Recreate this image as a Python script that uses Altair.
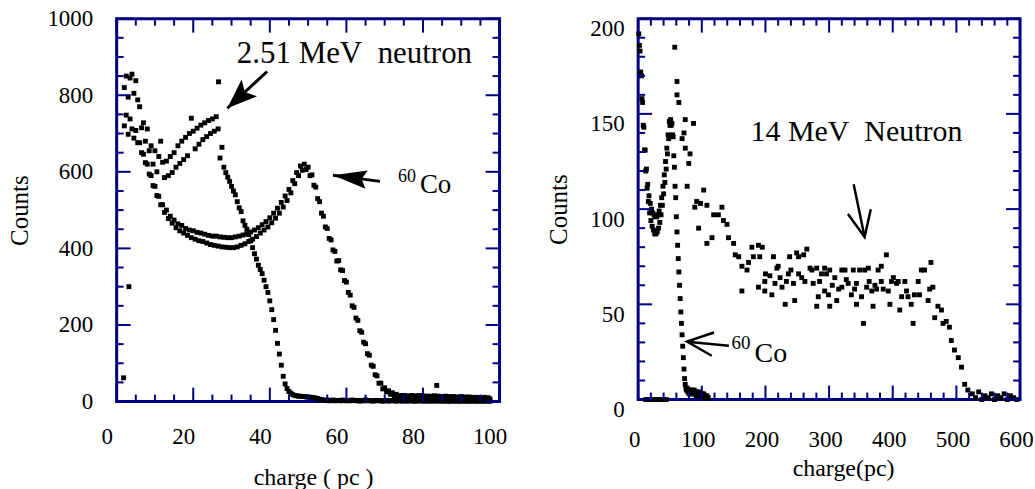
import math

import altair as alt
import pandas as pd

SERIF = "Liberation Serif"
INK = "#000080"  # frame and tick colour

# ---------------- left panel: 2.51 MeV neutrons and 60Co ----------------
# counts per channel, channels start at 2.0 pC with 0.5 pC spacing
LEFT_Q0, LEFT_DQ = 2.0, 0.5
co60_left = [
    720, 748, 698, 738, 712, 688, 708, 676,
    676, 650, 646, 624, 620, 594, 590, 564,
    562, 538, 536, 514, 514, 494, 500, 478,
    484, 466, 474, 454, 464, 446, 460, 440,
    452, 434, 448, 428, 446, 424, 442, 420,
    440, 418, 437, 414, 434, 410, 432, 408,
    432, 406, 430, 404, 429, 403, 428, 402,
    428, 402, 430, 404, 432, 408, 435, 412,
    438, 418, 443, 424, 448, 431, 454, 440,
    462, 448, 470, 456, 480, 467, 492, 479,
    505, 492, 520, 508, 537, 525, 554, 545,
    577, 569, 598, 590, 615, 604, 620, 606,
    612, 590, 592, 565, 560, 530, 522, 492,
    484, 456, 452, 426, 422, 396, 392, 367,
    368, 344, 342, 316, 312, 285, 278, 250,
    246, 218, 212, 185, 181, 155, 151, 125,
    121, 95, 92, 70, 67, 48, 48, 33,
    36, 25, 28, 19, 23, 15, 19, 13,
    16, 12, 16, 11, 15, 12, 16, 11,
    15, 11, 16, 12, 15, 11, 14, 12,
    14, 10, 15, 11, 14, 10, 13, 11,
    14, 10, 13, 11, 13, 9, 12, 10,
    13, 9, 12, 10, 12, 9, 11, 8,
    11, 9, 10, 8, 11, 8, 10, 7,
]
n251_left = [
    820, 850, 795, 845, 855, 805, 838, 788,
    770, 715, 728, 680, 712, 655, 668, 620,
    655, 600, 640, 680, 625, 585, 628, 590,
    640, 598, 650, 612, 668, 622, 680, 632,
    690, 642, 700, 740, 706, 660, 714, 672,
    722, 684, 728, 692, 734, 700, 738, 706,
    744, 712, 636, 664, 612, 598, 586, 575,
    562, 550, 540, 522, 506, 496, 472, 460,
    450, 436, 420, 402, 386, 372, 356, 345,
    334, 317, 300, 285, 263, 240, 214, 186,
    152, 124, 95, 66, 46, 34, 26, 22,
    18, 16, 15, 14, 14, 13, 13, 12,
    12, 11, 11, 10, 9, 8, 6, 5,
    4, 3, 4, 2, 3, 4, 2, 3,
    3, 2, 4, 3, 2, 3, 2, 4,
    3, 2, 3, 1, 3, 2, 4, 2,
    3, 2, 1, 3, 2, 3, 2, 1,
    2, 3, 1, 2, 3, 2, 1, 2,
    3, 1, 2, 2, 1, 3, 2, 1,
    2, 1, 3, 2, 1, 2, 1, 2,
    1, 2, 2, 1, 3, 1, 2, 1,
    2, 1, 1, 2, 1, 2, 1, 1,
    2, 1, 2, 1, 1, 2, 1, 2,
    1, 1, 2, 1, 1, 2, 1, 1,
]
# isolated readings
left_extra_q = [1.8, 3.2, 26.6, 83.6]
left_extra_counts = [62, 300, 835, 42]

# ---------------- right panel: 14 MeV neutrons and 60Co ----------------
RIGHT_Q0, RIGHT_DQ = 1.0, 1.0
co60_right = [
    192, 186, 183, 172, 170, 158, 156, 144, 143, 131,
    131, 120, 121, 111, 113, 104, 107, 98, 103, 94,
    100, 91, 98, 89, 97, 87, 96, 87, 96, 88,
    97, 90, 99, 93, 102, 97, 106, 102, 112, 108,
    118, 114, 125, 121, 132, 129, 139, 137, 146, 144,
    147, 144, 145, 139, 138, 128, 122, 112, 106, 96,
    88, 81, 74, 67, 60, 53, 46, 40, 34, 28,
    22, 16, 11, 8, 6, 5, 6, 4, 5, 3,
    5, 4, 3, 5, 4, 3, 4, 5, 3, 4,
    2, 4, 3, 2, 4, 3, 2, 3, 2, 3,
    2, 1, 3, 2, 1, 2, 1, 2, 1, 1,
]
n14_q = [
    12, 16, 20, 24, 28, 32, 36, 40, 44,
    57.5, 61, 61, 64, 69, 72, 74, 74, 77, 79.5, 81.5,
    87, 89, 92, 95, 98, 103, 108, 108, 116, 118.6,
    126, 131.6, 134, 139.5, 142, 150, 152.5, 158, 163, 163,
    171, 173.5, 178.7, 181, 189, 189, 191, 195, 199, 199,
    200, 207, 210, 212.6, 215, 218, 220, 223, 226, 231,
    233, 236, 238, 240, 244, 246, 249, 252, 252, 257,
    260, 262, 265, 270, 273, 275, 280.5, 280.6, 283, 285,
    288, 293, 293, 296, 299, 301, 301, 305, 309, 312,
    315, 320, 320, 325, 327, 330, 335, 338, 340, 343,
    343, 348, 351, 354, 356, 359, 361.6, 363, 367, 369,
    372, 374.6, 377, 382, 382, 385, 390, 393, 395.6, 398,
    401, 406, 408.6, 411, 414, 419, 421.6, 424, 429, 432,
    434, 440, 442, 445, 450, 455.6, 458, 460, 463, 466,
    471, 476.5, 479, 484, 489, 492, 497, 503, 508, 513,
    518, 525, 530, 535, 540, 545, 550, 555, 560, 565,
    570, 575, 580, 585, 590, 595,
]
n14_counts = [
    0, 0, 0, 0, 0, 0, 0, 0, 0,
    185, 167, 160, 156, 137, 140, 147, 132, 112, 124, 129,
    145, 101, 104, 90, 103, 110, 102, 82, 85, 97,
    97, 101, 94, 92, 85, 82, 76, 75, 70, 57,
    68, 72, 80, 75, 81, 59, 75, 80, 57, 62,
    66, 65, 55, 75, 61, 69, 70, 64, 59, 50,
    62, 66, 75, 68, 61, 52, 77, 66, 75, 64,
    76, 62, 79, 69, 68, 61, 69, 49, 54, 62,
    66, 57, 69, 66, 55, 68, 49, 60, 64, 52,
    58, 59, 68, 68, 63, 61, 55, 68, 58, 61,
    50, 68, 54, 40, 68, 59, 69, 62, 57, 49,
    60, 58, 68, 70, 62, 58, 76, 57, 50, 62,
    64, 61, 62, 47, 54, 62, 57, 54, 50, 40,
    55, 62, 55, 68, 68, 52, 58, 72, 59, 43,
    49, 47, 40, 41, 38, 31, 26, 22, 17, 8,
    5, 3, 1, 4, 0, 2, 1, 3, 0, 2,
    1, 3, 0, 2, 1, 0,
]

# axis tick values
left_q_major = [0, 20, 40, 60, 80, 100]
left_q_minor = [v for v in range(0, 101, 5) if v % 20]
left_c_major = [0, 200, 400, 600, 800, 1000]
left_c_minor = [v for v in range(0, 1001, 50) if v % 200]
right_q_major = [0, 100, 200, 300, 400, 500, 600]
right_q_minor = [v for v in range(0, 601, 20) if v % 100]
right_c_major = [0, 50, 100, 150, 200]
right_c_minor = [v for v in range(0, 201, 10) if v % 50]

LW, LH = 384, 384
RW, RH = 383, 382
MAJOR_LEN, MINOR_LEN = 14, 7
TICK_W = 2
POINT_SIZE = 24


def channel_frame(counts, q0, dq):
    return pd.DataFrame({"q": [q0 + dq * i for i in range(len(counts))], "counts": counts})


left_df = pd.concat(
    [
        channel_frame(co60_left, LEFT_Q0, LEFT_DQ),
        channel_frame(n251_left, LEFT_Q0, LEFT_DQ),
        pd.DataFrame({"q": left_extra_q, "counts": left_extra_counts}),
    ],
    ignore_index=True,
)
right_df = pd.concat(
    [
        channel_frame(co60_right, RIGHT_Q0, RIGHT_DQ),
        pd.DataFrame({"q": n14_q, "counts": n14_counts}),
    ],
    ignore_index=True,
)


class Panel:
    """Shared scales and axes for every layer of one panel."""

    def __init__(self, w, h, xs, ys, xaxis, yaxis):
        self.w, self.h = w, h
        self.xs, self.ys = xs, ys
        self.xaxis, self.yaxis = xaxis, yaxis
        (self.x0, self.x1), (self.y0, self.y1) = xs.domain, ys.domain
        self.sx = w / (self.x1 - self.x0)
        self.sy = h / (self.y1 - self.y0)

    def X(self):
        return alt.X("q:Q", scale=self.xs, axis=self.xaxis)

    def Y(self):
        return alt.Y("counts:Q", scale=self.ys, axis=self.yaxis)

    def points(self, df):
        return alt.Chart(df).mark_square(size=POINT_SIZE, color="black", opacity=1).encode(
            x=self.X(), y=self.Y()
        )

    def ticks(self, qmaj, qmin, cmaj, cmin):
        """Inward tick marks on all four sides, drawn as thin strips in data units."""
        rows = []
        hx = TICK_W / 2 / self.sx
        hy = TICK_W / 2 / self.sy
        for vals, length in ((qmaj, MAJOR_LEN), (qmin, MINOR_LEN)):
            d = length / self.sy
            for v in vals:
                rows.append((v - hx, self.y0, v + hx, self.y0 + d))
                rows.append((v - hx, self.y1 - d, v + hx, self.y1))
        for vals, length in ((cmaj, MAJOR_LEN), (cmin, MINOR_LEN)):
            d = length / self.sx
            for v in vals:
                rows.append((self.x0, v - hy, self.x0 + d, v + hy))
                rows.append((self.x1 - d, v - hy, self.x1, v + hy))
        df = pd.DataFrame(rows, columns=["q", "counts", "q2", "counts2"])
        return alt.Chart(df).mark_rect(color=INK, opacity=1, strokeWidth=0).encode(
            x=self.X(), y=self.Y(), x2="q2:Q", y2="counts2:Q"
        )

    def arrow(self, tail, tip, shape, size, filled, width):
        seg = pd.DataFrame(
            {"q": [tail[0]], "counts": [tail[1]], "q2": [tip[0]], "counts2": [tip[1]]}
        )
        shaft = alt.Chart(seg).mark_rule(color="black", strokeWidth=width).encode(
            x=self.X(), y=self.Y(), x2="q2:Q", y2="counts2:Q"
        )
        dx = (tip[0] - tail[0]) * self.sx
        dy = -(tip[1] - tail[1]) * self.sy
        ang = math.degrees(math.atan2(dx, -dy)) % 360
        head = alt.Chart(pd.DataFrame({"q": [tip[0]], "counts": [tip[1]]})).mark_point(
            shape=shape, size=size, angle=ang, filled=filled,
            color="black", opacity=1, strokeWidth=width,
        ).encode(x=self.X(), y=self.Y())
        return [shaft, head]

    def labels(self, rows):
        df = pd.DataFrame(rows, columns=["q", "counts", "label", "fs"])
        return alt.Chart(df).mark_text(
            font=SERIF, color="black", align="center", baseline="alphabetic"
        ).encode(
            x=self.X(), y=self.Y(), text="label:N",
            size=alt.Size("fs:Q", scale=None),
        )


BARBED = "M0,0L-0.38,1L0,0.8L0.38,1Z"
BARBED_NARROW = "M0,0L-0.27,1L0,0.85L0.27,1Z"
OPEN_V = "M-0.45,1L0,0L0.45,1"

# ---------------- left chart ----------------
left = Panel(
    LW, LH,
    alt.Scale(domain=[0, 100], nice=False, zero=False),
    alt.Scale(domain=[0, 1000], nice=False, zero=False),
    alt.Axis(
        values=left_q_major, title="charge ( pc )", format="d", ticks=False, tickSize=0,
        domain=False, grid=False, labelFontSize=23, titleFontSize=24,
        labelPadding=24, titlePadding=17, labelOffset=-10, labelFlush=False,
        labelOverlap=False, titleX=LW / 2 + 5,
    ),
    alt.Axis(
        values=left_c_major, title="Counts", format="d", ticks=False, tickSize=0,
        domain=False, grid=False, labelFontSize=23, titleFontSize=25,
        labelPadding=24, titlePadding=14, labelFlush=False, labelOverlap=False,
    ),
)
left_layers = [left.points(left_df)]
left_layers.append(left.ticks(left_q_major, left_q_minor, left_c_major, left_c_minor))
left_layers += left.arrow((39.3, 862), (28.9, 766), BARBED, 3600, True, 3)
left_layers += left.arrow((68.8, 575), (56.5, 591), BARBED_NARROW, 4624, True, 3)
left_layers.append(
    left.labels(
        [
            (62.1, 883, "2.51 MeV\u00a0 neutron", 31),
            (83.3, 544, "Co", 27),
            (75.8, 573, "60", 18),
        ]
    )
)
left_chart = alt.layer(*left_layers).properties(width=LW, height=LH)

# ---------------- right chart ----------------
right = Panel(
    RW, RH,
    alt.Scale(domain=[0, 600], nice=False, zero=False),
    alt.Scale(domain=[0, 200], nice=False, zero=False),
    alt.Axis(
        values=right_q_major, title="charge(pc)", format="d", ticks=False, tickSize=0,
        domain=False, grid=False, labelFontSize=23, titleFontSize=24,
        labelPadding=29, titlePadding=5, labelOffset=-4, labelFlush=False,
        labelOverlap=False, titleX=RW / 2 + 14,
    ),
    alt.Axis(
        values=right_c_major, title="Counts", format="d", ticks=False, tickSize=0,
        domain=False, grid=False, labelFontSize=23, titleFontSize=25,
        labelPadding=14, titlePadding=18, labelOffset=10, labelFlush=False,
        labelOverlap=False,
    ),
)
right_layers = [right.points(right_df)]
right_layers.append(right.ticks(right_q_major, right_q_minor, right_c_major, right_c_minor))
right_layers += right.arrow((338.6, 113), (355.8, 85.3), OPEN_V, 2704, False, 2.5)
right_layers += right.arrow((142.6, 28.3), (76.8, 30.4), OPEN_V, 2704, False, 2.5)
right_layers.append(
    right.labels(
        [
            (343, 135.6, "14 MeV\u00a0 Neutron", 30),
            (208.5, 19.9, "Co", 28),
            (161.4, 26.7, "60", 19),
        ]
    )
)
right_chart = alt.layer(*right_layers).properties(width=RW, height=RH)

chart = (
    alt.hconcat(left_chart, right_chart, spacing=139, bounds="flush")
    .properties(padding={"left": 6, "top": 5, "right": 0, "bottom": 0}, background="white")
    .configure_view(stroke=INK, strokeWidth=3)
    .configure_axis(
        labelFont=SERIF,
        titleFont=SERIF,
        labelColor="black",
        titleColor="black",
        titleFontWeight="normal",
    )
)

chart.save("out.html", embed_options={"renderer": "svg", "actions": False})
